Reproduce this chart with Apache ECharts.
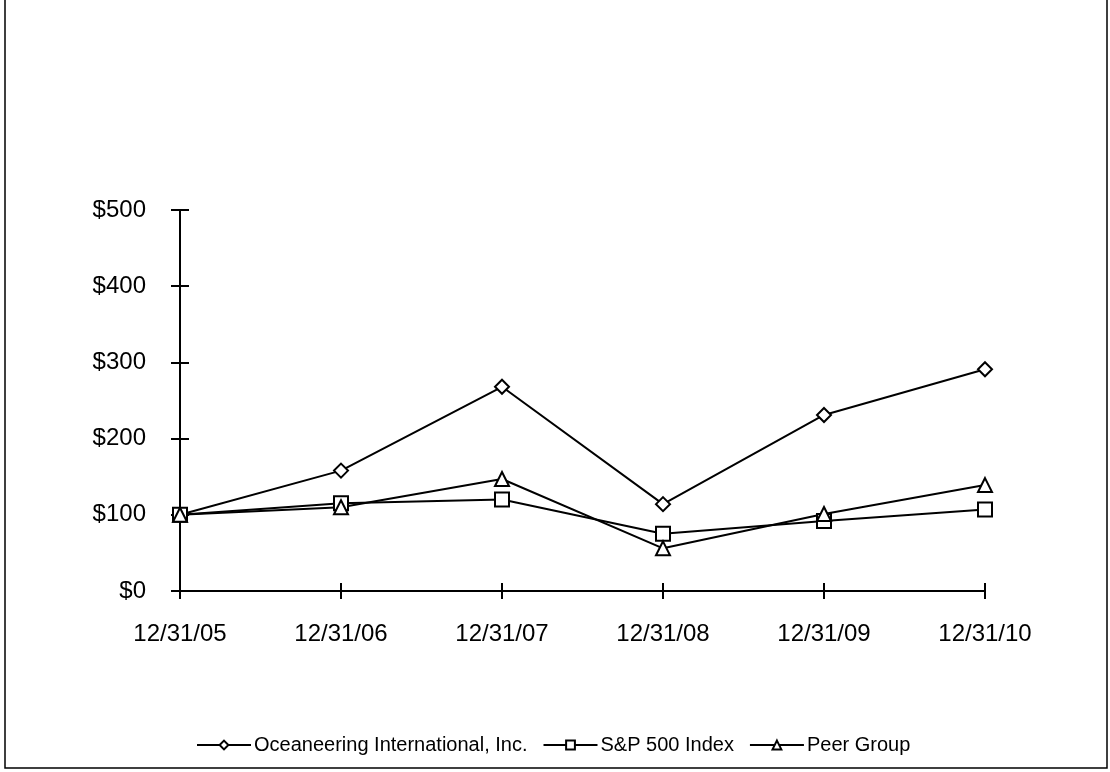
<!DOCTYPE html>
<html><head><meta charset="utf-8">
<script src="https://cdn.jsdelivr.net/npm/echarts@6/dist/echarts.min.js"></script>
<style>html,body{margin:0;padding:0;background:#fff}#c{width:1110px;height:772px}</style>
</head><body><div id="c"></div>
<script>
const categories = ['12/31/05','12/31/06','12/31/07','12/31/08','12/31/09','12/31/10'];
const oceaneering = [100, 158, 268, 114, 231, 291];
const sp500 = [100, 115, 120, 75, 92, 107];
const peerGroup = [100, 110, 147, 56, 101, 139];
const yTicks = [0, 100, 200, 300, 400, 500];

const chart = echarts.init(document.getElementById('c'));
const font = 'Liberation Sans, Arial, sans-serif';
const axisLine = {show: true, lineStyle: {color: '#000', width: 2}};
function series(name, data, symbol, size) {
  return {
    name, type: 'line', data, symbol, symbolSize: size,
    lineStyle: {color: '#000', width: 2},
    itemStyle: {color: '#fff', borderColor: '#000', borderWidth: 2},
    emphasis: {disabled: true}, animation: false, z: 3
  };
}
chart.setOption({
  animation: false,
  backgroundColor: '#fff',
  grid: {left: 180, right: 125, top: 210, bottom: 181},
  legend: {
    top: 730, left: 191, itemWidth: 54, itemHeight: 11, itemGap: 15,
    textStyle: {fontFamily: font, fontSize: 20, color: '#000', padding: [0, 0, 0, -2]},
    data: ['Oceaneering International, Inc.', 'S&P 500 Index', 'Peer Group']
  },
  xAxis: [{
    type: 'category', data: categories, boundaryGap: false,
    axisLine, axisTick: {show: true, length: 8, lineStyle: {color: '#000', width: 2}},
    axisLabel: {fontFamily: font, fontSize: 24, color: '#000', margin: 31},
    splitLine: {show: false}
  }, {
    type: 'category', data: categories, boundaryGap: false, position: 'bottom',
    axisLine: {show: false}, axisTick: {show: true, inside: true, length: 8, lineStyle: {color: '#000', width: 2}},
    axisLabel: {show: false}, splitLine: {show: false}
  }],
  yAxis: [{
    type: 'value', min: 0, max: 500, interval: 100,
    axisLine, axisTick: {show: true, length: 9, lineStyle: {color: '#000', width: 2}},
    axisLabel: {fontFamily: font, fontSize: 24, color: '#000', margin: 34,
      formatter: v => yTicks.includes(v) ? '$' + v : ''},
    splitLine: {show: false}
  }, {
    type: 'value', min: 0, max: 500, interval: 100, position: 'left',
    axisLine: {show: false}, axisTick: {show: true, inside: true, length: 9, lineStyle: {color: '#000', width: 2}},
    axisLabel: {show: false}, splitLine: {show: false}
  }],
  series: [
    series('Oceaneering International, Inc.', oceaneering, 'diamond', 14),
    series('S&P 500 Index', sp500, 'rect', 14),
    series('Peer Group', peerGroup, 'triangle', 14)
  ],
  graphic: [{
    type: 'rect', shape: {x: 5, y: -2, width: 1102, height: 770},
    style: {fill: 'none', stroke: '#000', lineWidth: 1.5}, silent: true
  }]
});
</script></body></html>
